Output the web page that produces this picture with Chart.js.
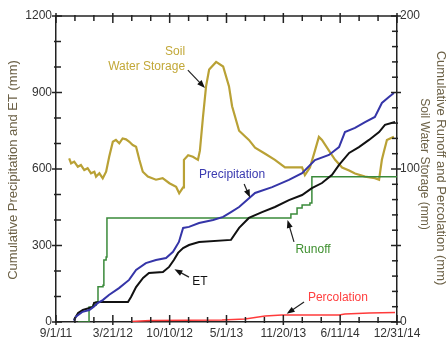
<!DOCTYPE html>
<html>
<head>
<meta charset="utf-8">
<script src="https://cdn.jsdelivr.net/npm/chart.js@4.4.1/dist/chart.umd.min.js"></script>
<style>
html, body { margin: 0; padding: 0; background: #fff; }
</style>
</head>
<body>
<canvas id="grafico" width="448" height="343"></canvas>
<script>
// x values are days after 9/1/11
const xLabels = ['9/1/11', '3/21/12', '10/10/12', '5/1/13', '11/20/13', '6/11/14', '12/31/14'];
const xMaxDays = 1218;

// left axis (mm)
const precipDays = [64, 71, 95, 119, 135, 150, 167, 189, 225, 261, 286, 321, 357, 393, 418, 439, 454, 475, 511, 561, 597, 625, 654, 711, 772, 832, 879, 925, 975, 1011, 1032, 1068, 1104, 1139, 1164, 1189, 1207];
const precipVals = [5, 21, 40, 47, 60, 75, 86, 106, 133, 165, 204, 231, 243, 251, 275, 314, 369, 373, 388, 400, 412, 431, 451, 506, 529, 557, 584, 635, 655, 686, 745, 761, 784, 804, 859, 882, 898];

const etDays = [64, 79, 96, 132, 136, 154, 257, 268, 286, 311, 332, 382, 404, 421, 436, 454, 475, 511, 625, 654, 689, 736, 782, 832, 879, 914, 950, 986, 1011, 1047, 1082, 1118, 1154, 1175, 1211];
const etVals = [8, 35, 47, 59, 75, 78, 78, 98, 137, 173, 192, 196, 216, 243, 271, 290, 302, 314, 322, 369, 408, 431, 451, 478, 498, 525, 545, 577, 616, 663, 686, 714, 745, 773, 784];

// right axis (mm)
const runoffDays = [79, 118, 132, 143, 150, 168, 171, 179, 182, 818, 839, 861, 879, 907, 914, 1218];
const runoffVals = [0, 9.8, 11, 13, 23, 24, 40.5, 42.5, 68, 68, 70.6, 74.5, 76.5, 77.8, 95, 95];

const percDays = [268, 336, 593, 675, 747, 807, 1011, 1032, 1118, 1211];
const percVals = [0.3, 1, 1.3, 2, 3.9, 4.6, 4.6, 5.2, 5.9, 6.2];

const soilDays = [47, 54, 65, 78, 89, 101, 113, 125, 137, 143, 155, 167, 179, 190, 203, 214, 226, 238, 250, 262, 274, 286, 298, 310, 328, 357, 381, 405, 429, 440, 454, 457, 472, 489, 507, 514, 525, 536, 547, 572, 597, 618, 629, 654, 689, 711, 747, 782, 818, 854, 879, 889, 907, 925, 939, 950, 975, 997, 1022, 1047, 1068, 1104, 1139, 1154, 1164, 1172, 1182, 1193, 1207];
const soilVals = [107, 103.7, 104.8, 101.5, 102.6, 99.3, 100.5, 97.2, 98.2, 95, 97.2, 93.9, 98.2, 108, 117.8, 119, 116.8, 120, 119.4, 117.8, 115.7, 114.6, 105.9, 98.2, 95, 93, 94, 90.7, 88.4, 84.1, 88, 106, 109, 108, 106, 112, 134, 154, 165, 170, 167, 154, 141, 125, 119, 114, 110, 106, 101, 101, 101, 96, 101, 112, 121, 119, 112, 106, 101, 99, 97, 95, 94, 93, 106, 112, 119, 120, 121];

const xTickValues = Array.from({ length: 19 }, (_, i) => i * xMaxDays / 18);
const yTickValues = Array.from({ length: 13 }, (_, i) => i * 100);
const y2TickValues = Array.from({ length: 21 }, (_, i) => i * 10);

const pts = (xs, ys) => xs.map((x, i) => ({ x: x, y: ys[i] }));

const fonte = '"Liberation Sans", Arial, sans-serif';
const corTitulo = '#6b6045';

// labels with arrows, in data units of the x and left y axes
const notas = [
    { lines: ['Soil', 'Water Storage'], x: 461, y: 1059, align: 'right', color: '#c2a838', from: [471, 988], to: [532, 918] },
    { lines: ['Precipitation'], x: 629, y: 577, align: 'center', color: '#3a3ab0', from: [672, 541], to: [693, 488] },
    { lines: ['ET'], x: 514, y: 157, align: 'center', color: '#111', from: [475, 176], to: [423, 207] },
    { lines: ['Runoff'], x: 918, y: 282, align: 'center', color: '#3d8f2e', from: [850, 314], to: [827, 400] },
    { lines: ['Percolation'], x: 1007, y: 94, align: 'center', color: '#ff4040', from: [886, 78], to: [824, 32] }
];

// ticks pointing into the plot, the top frame line and axis titles
const moldura = {
    id: 'moldura',
    afterDraw(chart) {
        const { ctx, chartArea: a, scales } = chart;
        const seg = (x1, y1, x2, y2) => { ctx.beginPath(); ctx.moveTo(x1, y1); ctx.lineTo(x2, y2); ctx.stroke(); };
        ctx.save();
        ctx.strokeStyle = '#222';
        ctx.lineWidth = 1.5;
        seg(a.left, a.top, a.right, a.top);
        xTickValues.forEach((v, i) => {
            const px = scales.x.getPixelForValue(v);
            const major = i % 3 === 0;
            seg(px, a.bottom + (major ? 3 : 1), px, a.bottom - (major ? 7 : 5));
            seg(px, a.top - (major ? 3 : 1), px, a.top + (major ? 7 : 5));
        });
        yTickValues.forEach(v => {
            const py = scales.y.getPixelForValue(v);
            const major = v % 300 === 0;
            seg(a.left - (major ? 4 : 2), py, a.left + (major ? 6 : 5), py);
        });
        y2TickValues.forEach(v => {
            const py = scales.y2.getPixelForValue(v);
            const major = v % 50 === 0;
            seg(a.right + (major ? 4 : 1), py, a.right - (major ? 6 : 5), py);
        });

        ctx.fillStyle = corTitulo;
        ctx.textAlign = 'center';
        ctx.textBaseline = 'middle';
        const vertical = (txt, x, y, ang, size) => {
            ctx.save();
            ctx.font = size + 'px ' + fonte;
            ctx.translate(x, y);
            ctx.rotate(ang);
            ctx.fillText(txt, 0, 0);
            ctx.restore();
        };
        vertical('Cumulative Precipitation and ET (mm)', 13, 170, -Math.PI / 2, 13);
        vertical('Cumulative Runoff and Percolation (mm)', chart.width - 7, 168, Math.PI / 2, 13);
        vertical('Soil Water Storage (mm)', chart.width - 24, 164, Math.PI / 2, 12);
        ctx.restore();
    },
    afterDatasetsDraw(chart) {
        const { ctx, scales } = chart;
        const sx = v => scales.x.getPixelForValue(v);
        const sy = v => scales.y.getPixelForValue(v);
        ctx.save();
        ctx.font = '12px ' + fonte;
        ctx.textBaseline = 'middle';
        notas.forEach(n => {
            ctx.fillStyle = n.color;
            ctx.textAlign = n.align;
            n.lines.forEach((l, i) => ctx.fillText(l, sx(n.x), sy(n.y) + i * 15));
            const x1 = sx(n.from[0]), y1 = sy(n.from[1]), x2 = sx(n.to[0]), y2 = sy(n.to[1]);
            const ang = Math.atan2(y2 - y1, x2 - x1);
            ctx.strokeStyle = '#222';
            ctx.fillStyle = '#111';
            ctx.lineWidth = 1.2;
            ctx.beginPath(); ctx.moveTo(x1, y1); ctx.lineTo(x2 - 5 * Math.cos(ang), y2 - 5 * Math.sin(ang)); ctx.stroke();
            ctx.beginPath();
            ctx.moveTo(x2, y2);
            ctx.lineTo(x2 - 8 * Math.cos(ang) + 3 * Math.sin(ang), y2 - 8 * Math.sin(ang) - 3 * Math.cos(ang));
            ctx.lineTo(x2 - 8 * Math.cos(ang) - 3 * Math.sin(ang), y2 - 8 * Math.sin(ang) + 3 * Math.cos(ang));
            ctx.closePath();
            ctx.fill();
        });
        ctx.restore();
    }
};

const ctx = document.getElementById('grafico').getContext('2d');
const grafico = new Chart(ctx, {
    type: 'line',
    data: {
        datasets: [
            { label: 'Precipitation', data: pts(precipDays, precipVals), yAxisID: 'y', borderColor: '#3535a8', borderWidth: 2 },
            { label: 'ET', data: pts(etDays, etVals), yAxisID: 'y', borderColor: '#111', borderWidth: 2 },
            { label: 'Percolation', data: pts(percDays, percVals), yAxisID: 'y2', borderColor: '#ff3b3b', borderWidth: 1.5 },
            { label: 'Runoff', data: pts(runoffDays, runoffVals), yAxisID: 'y2', borderColor: '#3a8a3a', borderWidth: 1.5, stepped: 'before' },
            { label: 'Soil Water Storage', data: pts(soilDays, soilVals), yAxisID: 'y2', borderColor: '#b9a135', borderWidth: 2.2 }
        ]
    },
    options: {
        responsive: false,
        animation: false,
        layout: { padding: { top: 16, left: 0, right: 0, bottom: 0 } },
        elements: { point: { radius: 0 }, line: { tension: 0, fill: false } },
        plugins: { legend: { display: false }, tooltip: { enabled: false } },
        scales: {
            x: {
                type: 'linear',
                position: 'bottom',
                min: 0,
                max: xMaxDays,
                afterBuildTicks: s => { s.ticks = xTickValues.map(v => ({ value: v })); },
                afterFit: s => { s.height = 21; },
                grid: { display: false, drawTicks: false },
                border: { display: true, color: '#222', width: 1.5 },
                ticks: {
                    autoSkip: false,
                    maxRotation: 0,
                    padding: 4,
                    color: '#333',
                    font: { family: fonte, size: 12 },
                    callback: (v, i) => (i % 3 === 0 ? xLabels[i / 3] : '')
                }
            },
            y: {
                type: 'linear',
                position: 'left',
                min: 0,
                max: 1200,
                afterBuildTicks: s => { s.ticks = yTickValues.map(v => ({ value: v })); },
                afterFit: s => { s.width = 56; },
                grid: { display: false, drawTicks: false },
                border: { display: true, color: '#222', width: 1.5 },
                ticks: {
                    padding: 4,
                    color: '#333',
                    font: { family: fonte, size: 12 },
                    callback: v => (v % 300 === 0 ? v : '')
                }
            },
            y2: {
                type: 'linear',
                position: 'right',
                min: 0,
                max: 200,
                afterBuildTicks: s => { s.ticks = y2TickValues.map(v => ({ value: v })); },
                afterFit: s => { s.width = 51; },
                grid: { display: false, drawTicks: false },
                border: { display: true, color: '#222', width: 1.5 },
                ticks: {
                    padding: 3,
                    color: '#333',
                    font: { family: fonte, size: 12 },
                    callback: v => (v % 50 === 0 ? v : '')
                }
            }
        }
    },
    plugins: [moldura]
});
</script>
</body>
</html>
